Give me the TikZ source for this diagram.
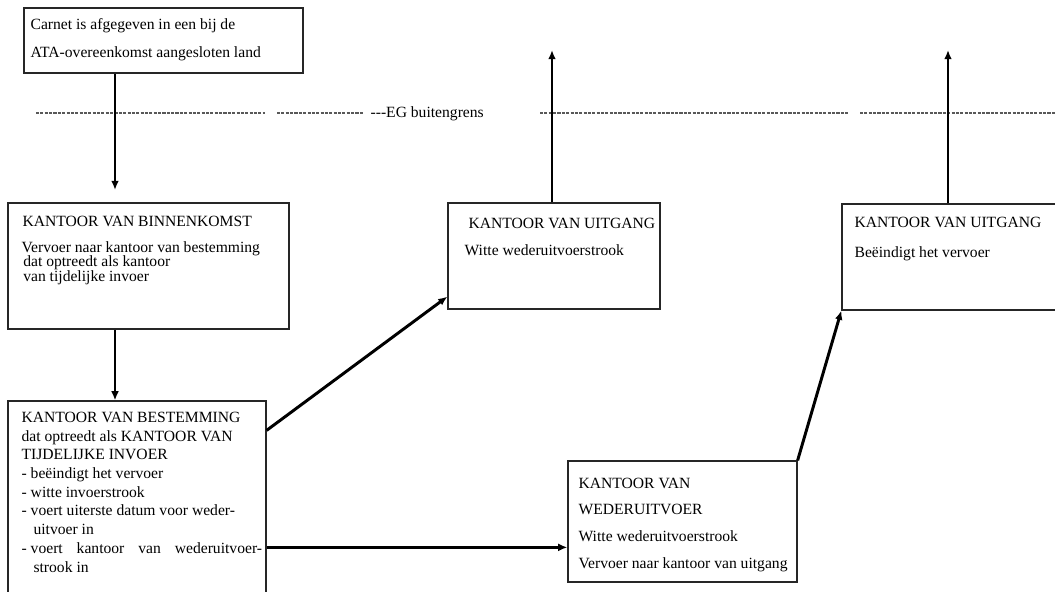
\documentclass[tikz,border=0pt]{standalone}
\usepackage{fontspec}
\setmainfont{Liberation Serif}
\usetikzlibrary{arrows.meta,calc,fit}

\begin{document}
\begin{tikzpicture}[x=0.025cm,y=-0.025cm,inner sep=0pt,line width=0.9pt,
  font=\fontsize{11.1}{13.3}\selectfont,
  box/.style={draw=black!85,rectangle,inner sep=0pt},
  txt/.style={anchor=base west,align=left},
  arr/.style={line width=2.1pt,-{Latex[length=6.5pt,width=5.5pt]}},
  grens/.style={draw=black!65,line width=0.8pt,dash pattern=on 2.2pt off 0.9pt}]

\useasboundingbox (0,0) rectangle (1055,592);
\clip (0,0) rectangle (1055,592);

% boxes
\node[box,fit={(24,8) (303,73)}] (carnet) {};
\node[box,fit={(8,203) (289,329)}] (bin) {};
\node[box,fit={(8,401) (266,600)}] (best) {};
\node[box,fit={(448,203) (660,309)}] (uit1) {};
\node[box,fit={(842,204) (1060,310)}] (uit2) {};
\node[box,fit={(568,461) (797,582)}] (weder) {};

% texts (anchored at the baseline of the last line)
\node[txt,font=\fontsize{11.1}{19.8}\selectfont] (carnettxt) at (30,57)
  {Carnet is afgegeven in een bij de\\ATA-overeenkomst aangesloten land};
\node[txt,font=\fontsize{11.1}{10.3}\selectfont] (bintxt) at (21,281)
  {\hspace*{0.7pt}KANTOOR VAN BINNENKOMST\\[8.1pt]Vervoer naar kantoor van bestemming\\
   \hspace*{1.2pt}dat optreedt als kantoor\\\hspace*{1.2pt}van tijdelijke invoer};
\node[txt] (besttxt) at (21,572)
  {KANTOOR VAN BESTEMMING\\dat optreedt als KANTOOR VAN\\TIJDELIJKE INVOER\\
   - beëindigt het vervoer\\- witte invoerstrook\\- voert uiterste datum voor weder-\\
   \hspace*{8.5pt}uitvoer in\\\hbox to 171pt{- voert\hfill kantoor\hfill van\hfill wederuitvoer-}\\
   \hspace*{8.5pt}strook in};
\node[txt,font=\fontsize{11.1}{19.1}\selectfont] (uit1txt) at (464,255)
  {\hspace*{2.8pt}KANTOOR VAN UITGANG\\Witte wederuitvoerstrook};
\node[txt,font=\fontsize{11.1}{21.3}\selectfont] (uit2txt) at (854,257)
  {KANTOOR VAN UITGANG\\Beëindigt het vervoer};
\node[txt,font=\fontsize{11.1}{18.9}\selectfont] (wedertxt) at (578,568)
  {KANTOOR VAN\\WEDERUITVOER\\Witte wederuitvoerstrook\\Vervoer naar kantoor van uitgang};

% EG buitengrens
\draw[grens] (36,113) -- (265,113);
\draw[grens] (277,113) -- (363,113);
\node[anchor=base west] (grenstxt) at (370,117) {-{}-{}-EG buitengrens};
\draw[grens] (540,113) -- (849,113);
\draw[grens] (860,113) -- (1055,113);

% arrows
\coordinate (binin) at (115,190);
\coordinate (uit1out) at (552,50);
\coordinate (uit2out) at (948,50);
\draw[arr] (carnet.south -| binin) -- (binin);
\draw[arr] (bin.south -| binin) -- (best.north -| binin);
\draw[arr] ($(best.north east)+(0,30)$) -- ($(uit1.south west)+(0,-13)$);
\path ($(best.north east)+(0,147)$) coordinate (bestuit);
\draw[arr] (bestuit) -- (bestuit -| weder.west);
\draw[arr] (weder.north east) -- (uit2.south west);
\draw[arr] (uit1.north -| uit1out) -- (uit1out);
\draw[arr] (uit2.north -| uit2out) -- (uit2out);

\end{tikzpicture}
\end{document}
